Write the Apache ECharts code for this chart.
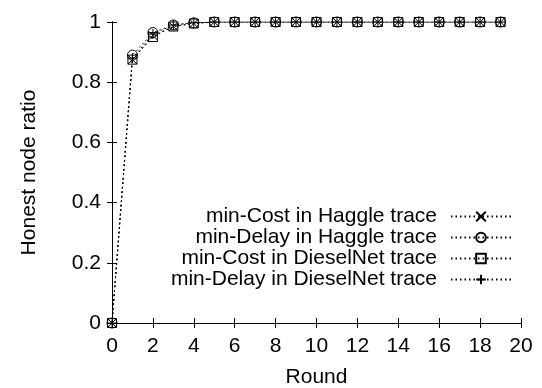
<!DOCTYPE html>
<html>
<head>
<meta charset="utf-8">
<script src="https://cdn.jsdelivr.net/npm/echarts@6/dist/echarts.min.js"></script>
<style>
  html, body { margin: 0; padding: 0; background: #fff; }
  #chart { width: 542px; height: 388px; }
</style>
</head>
<body>
<div id="chart"></div>
<script>
// Rounds 0..19
const rounds = [0,1,2,3,4,5,6,7,8,9,10,11,12,13,14,15,16,17,18,19];

// Honest node ratio per round
const minCostHaggle     = [0, 0.875, 0.955, 0.985, 0.995, 1, 1, 1, 1, 1, 1, 1, 1, 1, 1, 1, 1, 1, 1, 1];
const minDelayHaggle    = [0, 0.890, 0.965, 0.990, 0.997, 1, 1, 1, 1, 1, 1, 1, 1, 1, 1, 1, 1, 1, 1, 1];
const minCostDieselNet  = [0, 0.875, 0.950, 0.985, 0.995, 1, 1, 1, 1, 1, 1, 1, 1, 1, 1, 1, 1, 1, 1, 1];
const minDelayDieselNet = [0, 0.880, 0.960, 0.990, 0.998, 1, 1, 1, 1, 1, 1, 1, 1, 1, 1, 1, 1, 1, 1, 1];

const seriesNames = [
  'min-Cost in Haggle trace',
  'min-Delay in Haggle trace',
  'min-Cost in DieselNet trace',
  'min-Delay in DieselNet trace'
];

const FONT = 'Liberation Sans, Arial, Helvetica, sans-serif';
const FS = 21;

const crossPath = 'path://M0,0L10,10M10,0L0,10';
const plusPath = 'path://M5,0L5,10M0,5L10,5';

function makeSeries(name, values, symbol, size) {
  return {
    name: name,
    type: 'line',
    data: rounds.map((r, i) => [r, values[i]]),
    symbol: symbol,
    symbolSize: size,
    showAllSymbol: true,
    lineStyle: { color: '#000', width: 1, type: [1.5, 3] },
    itemStyle: { color: 'rgba(0,0,0,0)', borderColor: '#000', borderWidth: 1 },
    emphasis: { disabled: true },
    animation: false
  };
}

const chart = echarts.init(document.getElementById('chart'), null, { renderer: 'canvas' });

const axisLineStyle = { show: true, lineStyle: { color: '#000', width: 1 } };
const tickStyle = { show: true, inside: true, length: 5, lineStyle: { color: '#000' } };

chart.setOption({
  backgroundColor: '#fff',
  animation: false,
  grid: { left: 112, right: 21, top: 22, bottom: 65, containLabel: false, outerBoundsMode: 'none' },
  legend: {
    orient: 'vertical',
    right: 25,
    top: 201,
    align: 'right',
    itemWidth: 60,
    itemHeight: 12,
    itemGap: 0,
    selectedMode: false,
    textStyle: { fontFamily: FONT, fontSize: FS, lineHeight: 21, color: '#000', padding: [0, 9, 0, 0] },
    data: seriesNames
  },
  xAxis: [{
    type: 'value',
    min: 0, max: 20, interval: 2,
    position: 'bottom',
    name: 'Round',
    nameLocation: 'middle',
    nameGap: 44,
    nameTextStyle: { fontFamily: FONT, fontSize: FS, color: '#000' },
    axisLine: axisLineStyle,
    axisTick: tickStyle,
    axisLabel: { fontFamily: FONT, fontSize: FS, color: '#000', margin: 13 },
    splitLine: { show: false }
  }, {
    type: 'value',
    min: 0, max: 20, interval: 2,
    position: 'top',
    axisLine: axisLineStyle,
    axisTick: tickStyle,
    axisLabel: { show: false },
    splitLine: { show: false }
  }],
  yAxis: [{
    type: 'value',
    min: 0, max: 1, interval: 0.2,
    position: 'left',
    name: 'Honest node ratio',
    nameLocation: 'middle',
    nameGap: 72,
    nameTextStyle: { fontFamily: FONT, fontSize: FS, color: '#000' },
    axisLine: axisLineStyle,
    axisTick: tickStyle,
    axisLabel: { fontFamily: FONT, fontSize: FS, color: '#000', margin: 11 },
    splitLine: { show: false }
  }, {
    type: 'value',
    min: 0, max: 1, interval: 0.2,
    position: 'right',
    axisLine: axisLineStyle,
    axisTick: tickStyle,
    axisLabel: { show: false },
    splitLine: { show: false }
  }],
  series: [
    makeSeries(seriesNames[0], minCostHaggle, crossPath, 9),
    makeSeries(seriesNames[1], minDelayHaggle, 'circle', 10),
    makeSeries(seriesNames[2], minCostDieselNet, 'rect', 9),
    makeSeries(seriesNames[3], minDelayDieselNet, plusPath, 10)
  ]
});
</script>
</body>
</html>
